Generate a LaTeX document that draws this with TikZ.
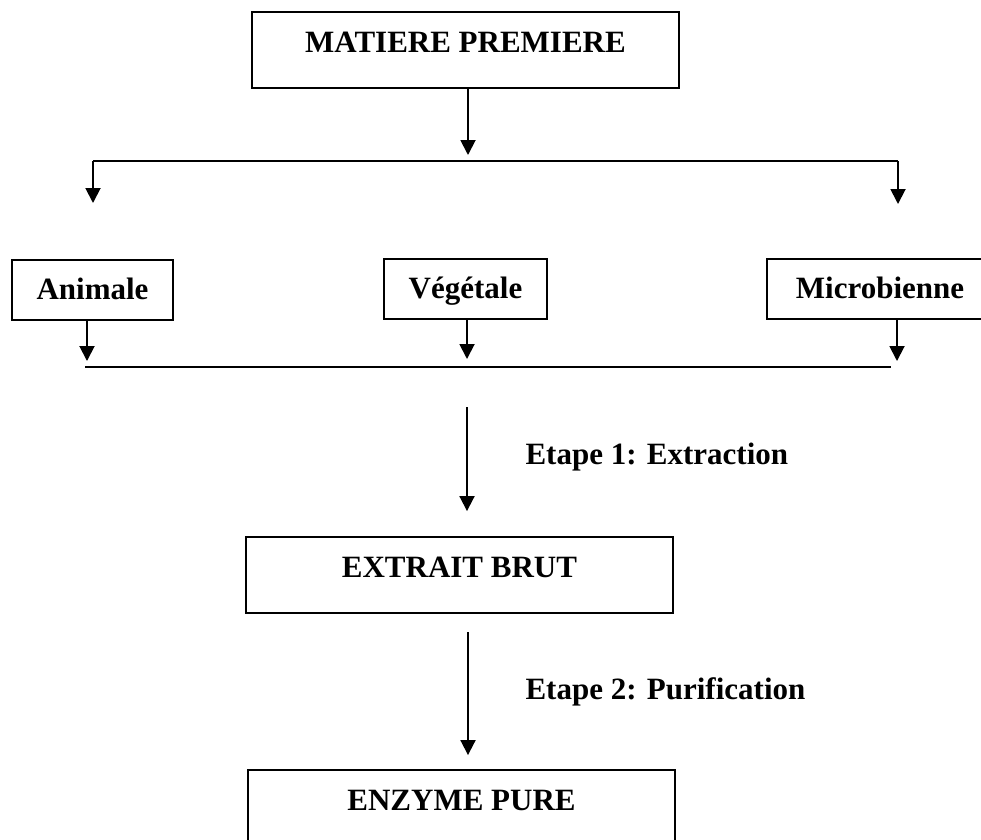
\documentclass[tikz,border=0pt]{standalone}
\usepackage{fontspec}
\setmainfont{Liberation Serif}
\usetikzlibrary{arrows.meta}
\usetikzlibrary{calc}

\begin{document}
\begin{tikzpicture}[
	x=1pt, y=-1pt,
  > = {Triangle[length=15pt,width=15pt]},
  every node/.style = {font=\fontsize{31}{37}\selectfont\bfseries},
  bigbox/.style = {draw, line width=1.9pt, inner sep=0pt, minimum width=427pt, text height=40pt, text depth=36pt, anchor=base},
  smallbox/.style = {draw, line width=1.9pt, inner sep=0pt, text height=39pt, text depth=21pt, anchor=base},
  link/.style = {line width=1.9pt}
  ]
	\useasboundingbox (0,0) rectangle (981,839);
	\clip (0,0) rectangle (981,839);

	\node[bigbox] (mp) at (465.5,52) {MATIERE PREMIERE};
	\node[smallbox, minimum width=161pt] (an) at (92.5,299) {Animale};
	\node[smallbox, minimum width=163pt] (ve) at (465.5,298) {Végétale};
	\node[smallbox, minimum width=226pt] (mi) at (880,298) {Microbienne};
	\node[bigbox] (eb) at (459.5,577) {EXTRAIT BRUT};
	\node[bigbox] (ez) at (461.5,810) {ENZYME PURE};

	\coordinate (split) at (468,161);
	\coordinate (sL) at (93,161);
	\coordinate (sR) at (898,161);
	\coordinate (aL) at (93,203);
	\coordinate (aR) at (898,204);

	\draw[link,->,shorten >=6pt] (mp.south -| split) -- (split);
	\draw[link] (sL) -- (sR);
	\draw[link,->] (sL) -- (aL);
	\draw[link,->] (sR) -- (aR);

	\coordinate (jL) at (87,367);
	\coordinate (jM) at (467,367);
	\coordinate (jR) at (897,367);
	\coordinate (jA) at (85,367);
	\coordinate (jB) at (891,367);

	\draw[link,->,shorten >=6pt] (an.south -| jL) -- (jL);
	\draw[link,->,shorten >=8pt] (ve.south -| jM) -- (jM);
	\draw[link,->,shorten >=6pt] (mi.south -| jR) -- (jR);
	\draw[link] (jA) -- (jB);

	\coordinate (s1) at (467,407);
	\coordinate (s2) at (468,632);

	\draw[link,->,shorten >=25pt] (s1) -- (eb.north -| s1);
	\draw[link,->,shorten >=14pt] (s2) -- (ez.north -| s2);

	\node[anchor=base west] (e1) at (522,464) {Etape 1: Extraction};
	\node[anchor=base west] (e2) at (522,699) {Etape 2: Purification};

\end{tikzpicture}
\end{document}
